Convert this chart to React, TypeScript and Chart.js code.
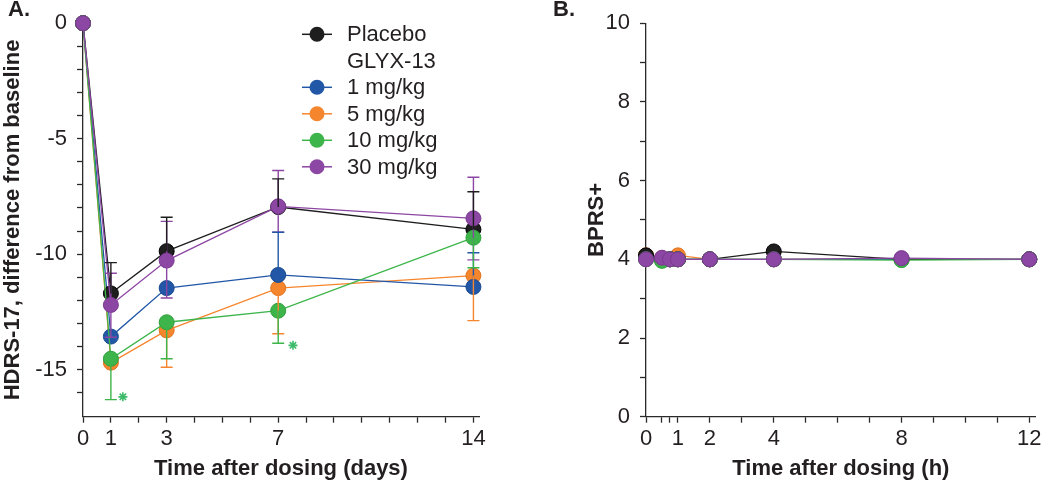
import React, { useEffect, useRef } from 'react';
import { Chart, registerables } from 'chart.js';

Chart.register(...registerables);

const FONT = '"Liberation Sans", Arial, Helvetica, sans-serif';
const TEXT = '#231f20';

// ---------- Panel A data (HDRS-17, difference from baseline) ----------
const daysA = [0, 1, 3, 7, 14];
const placeboA = [0, -11.7, -9.87, -7.96, -8.93];
const mg1A = [0, -13.57, -11.47, -10.9, -11.42];
const mg5A = [0, -14.7, -13.3, -11.47, -10.93];
const mg10A = [0, -14.53, -12.95, -12.45, -9.29];
const mg30A = [0, -12.2, -10.28, -7.93, -8.45];

// error-bar ends (null = not shown)
const placeboUpA = [null, -10.37, -8.4, -6.74, -7.3];
const mg1UpA = [null, null, null, -9.05, -9.94];
const mg30UpA = [null, -10.83, -8.58, -6.38, -6.67];
const mg30LoA = [null, -13.6, -11.9, -9.05, -10.25];
const mg5LoA = [null, null, -14.9, -13.45, -12.88];
const mg10LoA = [null, -16.3, -14.53, -13.86, -10.59];

// significance markers (green asterisks)
const starXA = [1.43, 7.53];
const starYA = [-16.18, -13.95];

const xTicksA = [0, 1, 2, 3, 4, 5, 6, 7, 8, 9, 10, 11, 12, 13, 14];
const xLabelsA = [0, 1, 3, 7, 14];
const yTicksA = [0, -1, -2, -3, -4, -5, -6, -7, -8, -9, -10, -11, -12, -13, -14, -15, -16];
const yLabelsA = [0, -5, -10, -15];

// ---------- Panel B data (BPRS+) ----------
const hoursB = [0, 0.5, 0.75, 1, 2, 4, 8, 12];
const placeboB = [4.1, 4.0, 4.0, 4.0, 4.0, 4.2, 4.0, 4.0];
const mg1B = [4.05, 4.0, 4.0, 4.0, 4.0, 4.0, 4.0, 4.0];
const mg5B = [4.1, 4.03, 4.0, 4.1, 4.0, 4.0, 4.0, 4.0];
const mg10B = [4.0, 3.96, 4.0, 4.0, 4.0, 4.0, 3.98, 4.0];
const mg30B = [4.0, 4.04, 4.0, 4.0, 4.0, 4.0, 4.03, 4.0];

const xTicksB = [0, 0.5, 0.75, 1, 2, 3, 4, 5, 6, 7, 8, 9, 10, 11, 12];
const xLabelsB = [0, 1, 2, 4, 8, 12];
const yTicksB = [0, 1, 2, 3, 4, 5, 6, 7, 8, 9, 10];
const yLabelsB = [0, 2, 4, 6, 8, 10];

// ---------- Series ----------
const seriesNames = ['Placebo', '1 mg/kg', '5 mg/kg', '10 mg/kg', '30 mg/kg'];
const seriesColors = ['#1e1e1e', '#2157a6', '#f6862e', '#3db54b', '#8c46a3'];
const seriesBorders = ['#000000', '#1b4a8f', '#e07420', '#2fa03c', '#7a3a90'];
const seriesOrder = [3, 4, 5, 1, 0];

const legendRows = ['Placebo', 'GLYX-13', '1 mg/kg', '5 mg/kg', '10 mg/kg', '30 mg/kg'];
const legendRowColors = [seriesColors[0], null, seriesColors[1], seriesColors[2], seriesColors[3], seriesColors[4]];

const tickFont = { family: FONT, size: 22 };
const titleFont = { family: FONT, size: 22, weight: 'bold' as const };

function mkDatasets(xs: number[], ys: number[][]) {
  return ys.map((arr, i) => ({
    label: seriesNames[i],
    data: xs.map((x, j) => ({ x, y: arr[j] })),
    showLine: true,
    borderColor: seriesColors[i],
    backgroundColor: seriesColors[i],
    pointBackgroundColor: seriesColors[i],
    pointBorderColor: seriesBorders[i],
    pointBorderWidth: 1,
    borderWidth: 1.3,
    pointRadius: 7.5,
    pointHoverRadius: 7.5,
    order: seriesOrder[i],
    clip: false as any,
  }));
}

function panelLabel(text: string, x: number, y: number) {
  return {
    id: 'panelLabel' + text,
    afterDraw(chart: any) {
      const ctx = chart.ctx;
      ctx.save();
      ctx.font = `bold 22px ${FONT}`;
      ctx.fillStyle = TEXT;
      ctx.textBaseline = 'alphabetic';
      ctx.textAlign = 'left';
      ctx.fillText(text, x, y);
      ctx.restore();
    },
  };
}

const errorBarPlugin = {
  id: 'errorBars',
  afterDatasetsDraw(chart: any) {
    const { ctx } = chart;
    const xs = chart.scales.x;
    const ys = chart.scales.y;
    const bars = [
      { base: mg30A, ends: mg30UpA, color: seriesColors[4] },
      { base: mg30A, ends: mg30LoA, color: seriesColors[4] },
      { base: mg1A, ends: mg1UpA, color: seriesColors[1] },
      { base: mg5A, ends: mg5LoA, color: seriesColors[2] },
      { base: mg10A, ends: mg10LoA, color: seriesColors[3] },
      { base: placeboA, ends: placeboUpA, color: seriesColors[0] },
    ];
    ctx.save();
    ctx.lineWidth = 1.4;
    bars.forEach((b) => {
      ctx.strokeStyle = b.color;
      daysA.forEach((d, i) => {
        const end = b.ends[i];
        if (end === null || end === undefined) return;
        const px = xs.getPixelForValue(d);
        const p0 = ys.getPixelForValue(b.base[i]);
        const p1 = ys.getPixelForValue(end);
        ctx.beginPath();
        ctx.moveTo(px, p0);
        ctx.lineTo(px, p1);
        ctx.moveTo(px - 6, p1);
        ctx.lineTo(px + 6, p1);
        ctx.stroke();
      });
    });
    ctx.restore();
  },
};

const legendPlugin = {
  id: 'customLegend',
  afterDraw(chart: any) {
    const ctx = chart.ctx;
    ctx.save();
    ctx.font = `22px ${FONT}`;
    ctx.textBaseline = 'middle';
    ctx.textAlign = 'left';
    legendRows.forEach((label, i) => {
      const y = 34.3 + i * 26.5;
      const c = legendRowColors[i];
      if (c) {
        ctx.strokeStyle = c;
        ctx.lineWidth = 1.5;
        ctx.beginPath();
        ctx.moveTo(302, y);
        ctx.lineTo(332, y);
        ctx.stroke();
        ctx.fillStyle = c;
        ctx.beginPath();
        ctx.arc(317, y, 7.5, 0, Math.PI * 2);
        ctx.fill();
      }
      ctx.fillStyle = TEXT;
      ctx.fillText(label, 347, y + 1);
    });
    ctx.restore();
  },
};

function axisCommon(ticksArr: number[], labels: number[]) {
  return {
    type: 'linear' as const,
    afterBuildTicks: (s: any) => {
      s.ticks = ticksArr.map((v) => ({ value: v }));
    },
    grid: {
      drawOnChartArea: false,
      drawTicks: true,
      tickLength: 6,
      tickWidth: 1.3,
      tickColor: '#2a2a2a',
    },
    border: { display: true, color: '#2a2a2a', width: 1.3 },
    ticks: {
      autoSkip: false,
      maxRotation: 0,
      color: TEXT,
      font: tickFont,
      callback: (v: any) => (labels.includes(v) ? String(v) : ''),
    },
  };
}

function ChartA() {
  const ref = useRef<HTMLCanvasElement>(null);
  useEffect(() => {
    const xAx: any = axisCommon(xTicksA, xLabelsA);
    xAx.min = 0;
    xAx.max = 14.2;
    xAx.ticks.padding = 3;
    xAx.afterFit = (s: any) => { s.height = 65.3; };
    xAx.title = { display: true, text: 'Time after dosing (days)', color: TEXT, font: titleFont, padding: { top: 0, bottom: 0 } };
    const yAx: any = axisCommon(yTicksA, yLabelsA);
    yAx.min = -17.04;
    yAx.max = 0;
    yAx.ticks.padding = 10;
    yAx.afterFit = (s: any) => { s.width = 83; };
    yAx.title = { display: true, text: 'HDRS-17, difference from baseline', color: TEXT, font: titleFont, padding: { top: 0, bottom: 0 } };

    const datasets: any[] = mkDatasets(daysA, [placeboA, mg1A, mg5A, mg10A, mg30A]);
    datasets.push({
      label: 'significance',
      data: starXA.map((x, i) => ({ x, y: starYA[i] })),
      showLine: false,
      pointStyle: 'star',
      pointRadius: 4.5,
      pointBorderWidth: 1.6,
      borderColor: '#3dbb6a',
      backgroundColor: '#3dbb6a',
      order: 0,
      clip: false,
    });

    const chart = new Chart(ref.current!, {
      type: 'scatter',
      data: { datasets },
      options: {
        responsive: false,
        animation: false,
        layout: { padding: { top: 20.7, right: 41, bottom: 0, left: 0 } },
        plugins: { legend: { display: false }, tooltip: { enabled: false } },
        scales: { x: xAx, y: yAx },
      },
      plugins: [errorBarPlugin, legendPlugin, panelLabel('A.', 8, 16)],
    });
    return () => chart.destroy();
  }, []);
  return <canvas ref={ref} width={520} height={482} style={{ position: 'absolute', left: 0, top: 0, width: 520, height: 482 }} />;
}

function ChartB() {
  const ref = useRef<HTMLCanvasElement>(null);
  useEffect(() => {
    const xAx: any = axisCommon(xTicksB, xLabelsB);
    xAx.min = 0;
    xAx.max = 12.2;
    xAx.ticks.padding = 3;
    xAx.afterFit = (s: any) => { s.height = 65.3; };
    xAx.title = { display: true, text: 'Time after dosing (h)', color: TEXT, font: titleFont, padding: { top: 0, bottom: 0 } };
    const yAx: any = axisCommon(yTicksB, yLabelsB);
    yAx.min = 0;
    yAx.max = 10;
    yAx.ticks.padding = 10;
    yAx.afterFit = (s: any) => { s.width = 126; };
    yAx.title = { display: true, text: 'BPRS+', color: TEXT, font: titleFont, padding: { top: 64, bottom: 0 } };

    const datasets: any[] = mkDatasets(hoursB, [placeboB, mg1B, mg5B, mg10B, mg30B]);

    const chart = new Chart(ref.current!, {
      type: 'scatter',
      data: { datasets },
      options: {
        responsive: false,
        animation: false,
        layout: { padding: { top: 20.7, right: 14.3, bottom: 0, left: 0 } },
        plugins: { legend: { display: false }, tooltip: { enabled: false } },
        scales: { x: xAx, y: yAx },
      },
      plugins: [panelLabel('B.', 33, 16)],
    });
    return () => chart.destroy();
  }, []);
  return <canvas ref={ref} width={530} height={482} style={{ position: 'absolute', left: 520, top: 0, width: 530, height: 482 }} />;
}

export default function App() {
  return (
    <div style={{ position: 'absolute', left: 0, top: 0, width: 1050, height: 482, background: '#ffffff', overflow: 'hidden' }}>
      <ChartA />
      <ChartB />
    </div>
  );
}
